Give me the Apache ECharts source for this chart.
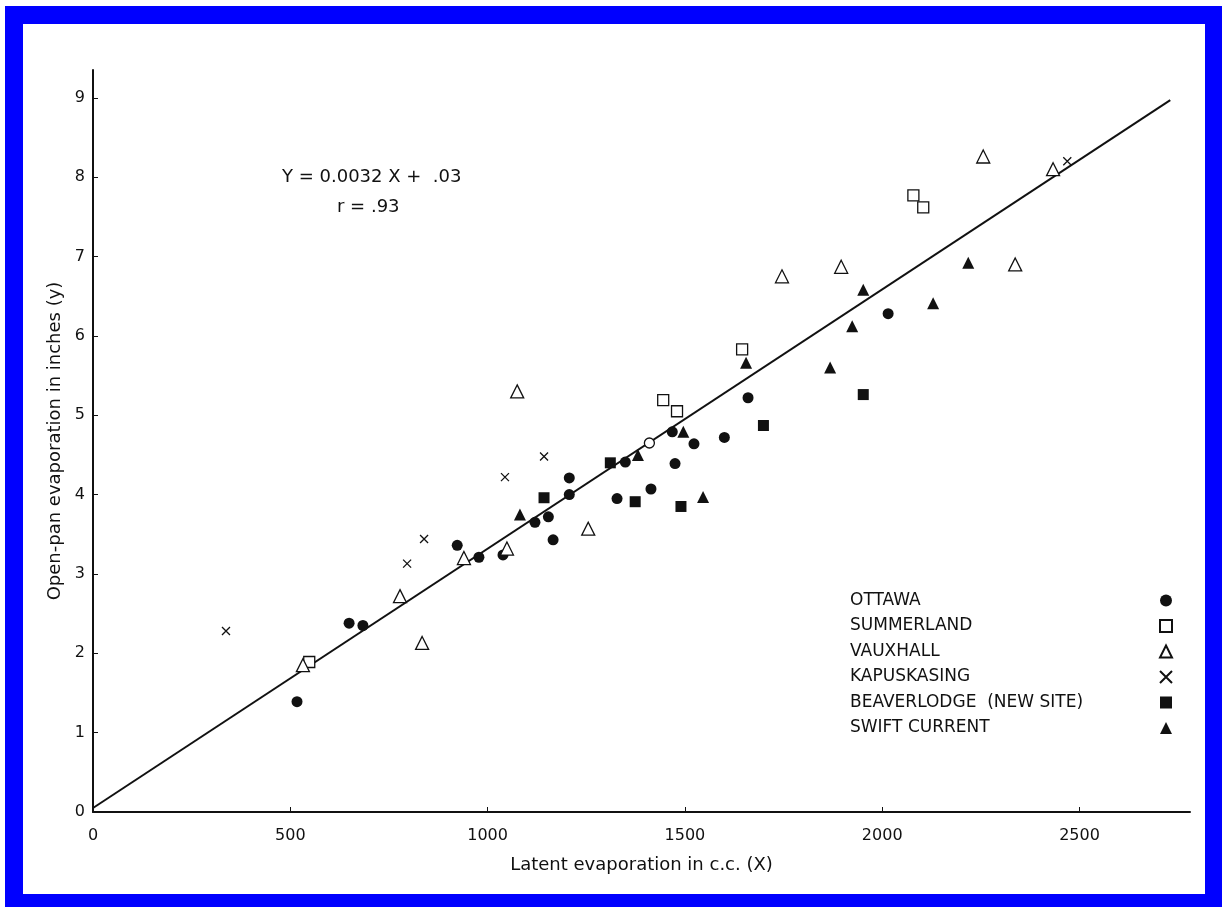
<!DOCTYPE html>
<html>
<head>
<meta charset="utf-8">
<script src="https://cdn.jsdelivr.net/npm/echarts@6/dist/echarts.min.js"></script>
<style>
html,body{margin:0;padding:0;background:#fff;}
#chart{width:1222px;height:907px;}
</style>
</head>
<body>
<div id="chart"></div>
<script>
// ---- data ----
const xTicks = [0, 500, 1000, 1500, 2000, 2500];
const yTicks = [0, 1, 2, 3, 4, 5, 6, 7, 8, 9];

const ottawaX = [517, 649, 684, 923, 978, 1039, 1120, 1154, 1166, 1207, 1207, 1328, 1349, 1414, 1468, 1475, 1523, 1600, 1660, 2015];
const ottawaY = [1.39, 2.38, 2.35, 3.36, 3.21, 3.24, 3.65, 3.72, 3.43, 4.00, 4.21, 3.95, 4.41, 4.07, 4.79, 4.39, 4.64, 4.72, 5.22, 6.28];

const summerlandX = [548, 1445, 1480, 1645, 2079, 2104];
const summerlandY = [1.89, 5.19, 5.05, 5.83, 7.77, 7.62];

const vauxhallX = [532, 778, 834, 940, 1049, 1075, 1255, 1746, 1896, 2256, 2337, 2433];
const vauxhallY = [1.85, 2.72, 2.13, 3.20, 3.32, 5.30, 3.57, 6.75, 6.87, 8.26, 6.90, 8.10];

const kapuskasingX = [337, 796, 839, 1044, 1143, 2469];
const kapuskasingY = [2.28, 3.13, 3.44, 4.22, 4.48, 8.20];

const beaverlodgeX = [1143, 1311, 1374, 1490, 1699, 1952];
const beaverlodgeY = [3.96, 4.40, 3.91, 3.85, 4.87, 5.26];

const swiftX = [1082, 1381, 1496, 1546, 1655, 1868, 1924, 1952, 2129, 2218];
const swiftY = [3.75, 4.50, 4.79, 3.97, 5.66, 5.60, 6.12, 6.58, 6.41, 6.92];

const openCircleX = [1410];
const openCircleY = [4.65];

const fitX = [0, 2730];
const fitY = [0.05, 8.97];

const legendNames = ['OTTAWA', 'SUMMERLAND', 'VAUXHALL', 'KAPUSKASING', 'BEAVERLODGE  (NEW SITE)', 'SWIFT CURRENT'];
const equationText = 'Y = 0.0032 X +  .03';
const rText = 'r = .93';
const xName = 'Latent evaporation in c.c. (X)';
const yName = 'Open-pan evaporation in inches (y)';

// ---- build ----
const zip = (a, b) => a.map((v, i) => [v, b[i]]);
const FONT = '"DejaVu Sans", "Liberation Sans", sans-serif';
const INK = '#111';
const X_PATH = 'path://M0,0L10,10M10,0L0,10';

const chart = echarts.init(document.getElementById('chart'), null, {renderer: 'canvas'});

function sc(name, x, y, symbol, size, filled, extra) {
  return Object.assign({
    name: name,
    type: 'scatter',
    data: zip(x, y),
    symbol: symbol,
    symbolSize: size,
    itemStyle: filled
      ? {color: INK, borderColor: INK, borderWidth: 0, opacity: 1}
      : {color: '#fff', borderColor: INK, borderWidth: 1.3, opacity: 1},
    emphasis: {disabled: true},
    z: 5
  }, extra || {});
}

const option = {
  backgroundColor: '#fff',
  animation: false,
  graphic: [
    {
      type: 'rect', silent: true, z: -10,
      shape: {x: 14, y: 15, width: 1200, height: 888},
      style: {fill: 'none', stroke: '#0000ff', lineWidth: 18}
    },
    {
      type: 'text', left: 282, top: 168,
      style: {text: equationText, font: '18px ' + FONT, fill: INK}
    },
    {
      type: 'text', left: 337, top: 198,
      style: {text: rText, font: '18px ' + FONT, fill: INK}
    }
  ],
  grid: {left: 93, top: 70, right: 32, bottom: 95, containLabel: false},
  legend: {
    orient: 'vertical',
    left: 845,
    top: 587,
    align: 'right',
    itemGap: 8.5,
    itemWidth: 12,
    itemHeight: 12,
    data: legendNames,
    formatter: name => '{a|' + name + '}',
    textStyle: {
      fontFamily: FONT, fontSize: 17, color: INK,
      rich: {a: {fontFamily: FONT, fontSize: 17, color: INK, width: 305, lineHeight: 17, align: 'left'}}
    },
    selectedMode: false
  },
  xAxis: {
    type: 'value',
    min: 0, max: 2780, interval: 500,
    name: xName,
    nameLocation: 'middle',
    nameGap: 44,
    nameTextStyle: {fontFamily: FONT, fontSize: 18, color: INK},
    axisLine: {show: true, onZero: false, lineStyle: {color: INK, width: 2}},
    axisTick: {show: true, inside: true, length: 5, lineStyle: {color: INK}, customValues: xTicks},
    axisLabel: {
      fontFamily: FONT, fontSize: 16, color: INK, margin: 16,
      customValues: xTicks,
      formatter: v => (xTicks.indexOf(v) >= 0 ? String(v) : '')
    },
    splitLine: {show: false}
  },
  yAxis: {
    type: 'value',
    min: 0, max: 9.35, interval: 1,
    name: yName,
    nameLocation: 'middle',
    nameGap: 29,
    nameTextStyle: {fontFamily: FONT, fontSize: 18, color: INK},
    axisLine: {show: true, onZero: false, lineStyle: {color: INK, width: 2}},
    axisTick: {show: true, inside: true, length: 5, lineStyle: {color: INK}, customValues: yTicks},
    axisLabel: {
      fontFamily: FONT, fontSize: 16, color: INK, margin: 8,
      customValues: yTicks,
      formatter: v => (yTicks.indexOf(v) >= 0 ? String(v) : '')
    },
    splitLine: {show: false}
  },
  series: [
    {
      name: 'fit', type: 'line', data: zip(fitX, fitY),
      showSymbol: false, symbol: 'none',
      lineStyle: {color: INK, width: 2}, z: 3, silent: true
    },
    sc(legendNames[0], ottawaX, ottawaY, 'circle', 11, true),
    sc(legendNames[1], summerlandX, summerlandY, 'rect', 11, false),
    sc(legendNames[2], vauxhallX, vauxhallY, 'triangle', 13, false),
    sc(legendNames[3], kapuskasingX, kapuskasingY, X_PATH, 8, false,
       {itemStyle: {color: 'none', borderColor: INK, borderWidth: 1.3, opacity: 1}}),
    sc(legendNames[4], beaverlodgeX, beaverlodgeY, 'rect', 11, true),
    sc(legendNames[5], swiftX, swiftY, 'triangle', 12, true),
    sc('open', openCircleX, openCircleY, 'circle', 10, false)
  ]
};
chart.setOption(option);
</script>
</body>
</html>
